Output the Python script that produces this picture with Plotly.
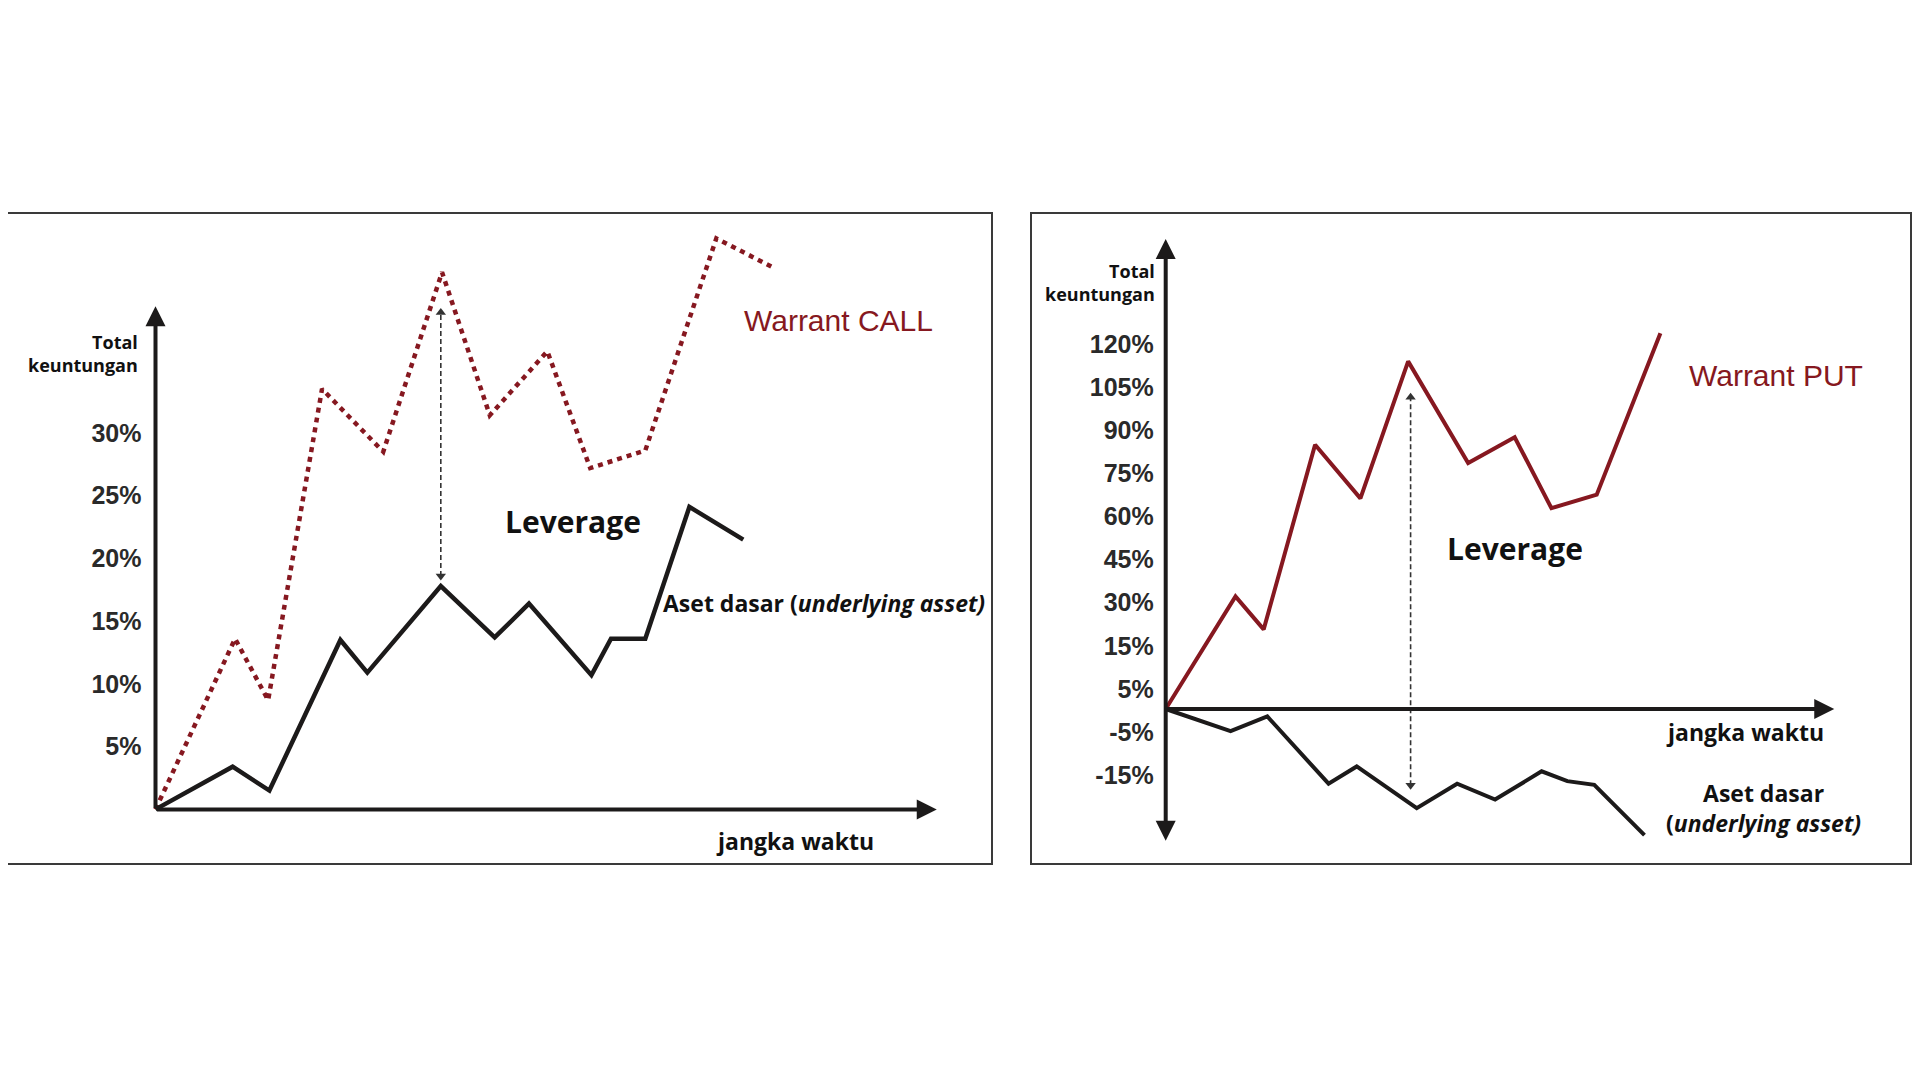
import plotly.graph_objects as go

# the page body keeps an 8px margin, so the figure is 8px smaller than the window
OFF = 8
W, H = 1920 - OFF, 1080 - OFF

# ---- data (left panel: warrant CALL, y in %) ----
call_time = [0, 6.5, 9.2, 13.6, 18.6, 23.4, 27.3, 32.0, 35.5, 40.0, 45.8, 50.6]
call_warrant = [0, 13.6, 8.7, 33.5, 28.5, 42.8, 31.4, 36.5, 27.2, 28.6, 45.5, 43.1]
call_asset_time = [0, 6.3, 9.3, 15.1, 17.3, 23.3, 27.7, 30.5, 35.6, 37.2, 40.0, 43.6, 48.0]
call_asset = [0, 3.4, 1.5, 13.5, 10.9, 17.8, 13.7, 16.4, 10.7, 13.6, 13.6, 24.1, 21.5]
call_ticks = [5, 10, 15, 20, 25, 30]
call_ticktext = ["5%", "10%", "15%", "20%", "25%", "30%"]
call_lev = [18.6, 39.6]          # leverage arrow (bottom, top)
call_lev_t = 23.3

# ---- data (right panel: warrant PUT) ----
put_time = [0, 5.7, 8.0, 12.2, 15.9, 19.8, 24.7, 28.5, 31.5, 35.2, 40.4]
put_warrant = [0, 39.2, 27.7, 92.0, 73.3, 121.0, 85.6, 94.6, 69.9, 74.6, 130.8]
put_asset_time = [0, 5.3, 8.3, 13.3, 15.6, 20.5, 23.8, 26.9, 30.7, 32.8, 35.0, 39.1]
put_asset = [0, -7.7, -2.6, -26.0, -20.0, -34.5, -26.0, -31.5, -21.7, -25.1, -26.4, -43.9]
put_ticks = [127, 112, 97, 82, 67, 52, 37, 22, 7, -8, -23]
put_ticktext = ["120%", "105%", "90%", "75%", "60%", "45%", "30%", "15%", "5%", "-5%", "-15%"]
put_lev = [-26.5, 108.5]
put_lev_t = 20.0

RED = "#861820"
INK = "#1c1a1a"
TICKFONT = dict(family="Liberation Sans, Arial", size=25, color="#2a2a2a", weight="bold")
LABFONT = "Open Sans, Noto Sans, sans-serif"


def px_x(x):
    return (x - OFF) / W


def px_y(y):
    return 1 - (y - OFF) / H


def axis_range(origin_px, unit_px, size, flip=False):
    # data range so that value 0 sits at origin_px (window pixels) with unit_px per unit
    o = origin_px - OFF
    if flip:
        return [(o - size) / unit_px, o / unit_px]
    return [-o / unit_px, (size - o) / unit_px]


fig = go.Figure()

# left panel lines
fig.add_trace(go.Scatter(x=call_time, y=call_warrant, mode="lines",
                         line=dict(color=RED, width=4.5, dash="5px,5px"),
                         xaxis="x", yaxis="y", showlegend=False))
fig.add_trace(go.Scatter(x=call_asset_time, y=call_asset, mode="lines",
                         line=dict(color=INK, width=4.5),
                         xaxis="x", yaxis="y", showlegend=False))
fig.add_trace(go.Scatter(x=[call_lev_t, call_lev_t], y=call_lev, mode="lines+markers",
                         line=dict(color="#333", width=1.6, dash="5px,3px"),
                         marker=dict(symbol=["triangle-down", "triangle-up"], size=9, color="#333"),
                         xaxis="x", yaxis="y", showlegend=False))

# right panel lines
fig.add_trace(go.Scatter(x=put_time, y=put_warrant, mode="lines",
                         line=dict(color=RED, width=4),
                         xaxis="x2", yaxis="y2", showlegend=False))
fig.add_trace(go.Scatter(x=put_asset_time, y=put_asset, mode="lines",
                         line=dict(color=INK, width=4),
                         xaxis="x2", yaxis="y2", showlegend=False))
fig.add_trace(go.Scatter(x=[put_lev_t, put_lev_t], y=put_lev, mode="lines+markers",
                         line=dict(color="#333", width=1.6, dash="5px,3px"),
                         marker=dict(symbol=["triangle-down", "triangle-up"], size=9, color="#333"),
                         xaxis="x2", yaxis="y2", showlegend=False))

# panel frames
for x0, x1 in [(6, 992), (1031, 1911)]:
    fig.add_shape(type="rect", xref="paper", yref="paper",
                  x0=px_x(x0), x1=px_x(x1), y0=px_y(864), y1=px_y(213),
                  line=dict(color="#3a3a3a", width=2))


def axis_arrow(xr, yr, x, y, ax, ay, side="end"):
    fig.add_annotation(xref=xr, yref=yr, axref=xr, ayref=yr, x=x, y=y, ax=ax, ay=ay,
                       text="", showarrow=True, arrowhead=2, arrowsize=1,
                       arrowwidth=4, arrowcolor=INK, arrowside=side)


axis_arrow("x", "y", 0, 40.1, 0, 0)
axis_arrow("x", "y", 63.8, 0, 0, 0)
axis_arrow("x2", "y2", 0, 163.6, 0, -46.4, "end+start")
axis_arrow("x2", "y2", 54.6, 0, 0, 0)


def label(xp, yp, text, size, color="#111", family=LABFONT, align="center", xanchor="center", weight="bold"):
    fig.add_annotation(xref="paper", yref="paper", x=px_x(xp), y=px_y(yp), text=text,
                       showarrow=False, xanchor=xanchor, yanchor="middle", align=align,
                       font=dict(family=family, size=size, color=color, weight=weight))


# left panel texts
label(140, 354, "Total<br>keuntungan", 18, xanchor="right", align="right")
label(573, 521, "Leverage", 30)
label(838, 320, "Warrant CALL", 30, color=RED, family="Liberation Sans, Arial", weight="normal")
label(824, 603, "Aset dasar (<i>underlying asset)</i>", 23)
label(795, 841, "jangka waktu", 23)

# right panel texts
label(1157, 282, "Total<br>keuntungan", 18, xanchor="right", align="right")
label(1515, 548, "Leverage", 30)
label(1776, 375, "Warrant PUT", 30, color=RED, family="Liberation Sans, Arial", weight="normal")
label(1745, 732, "jangka waktu", 23)
label(1763, 808, "Aset dasar<br>(<i>underlying asset)</i>", 23)

hidden_x = dict(domain=[0, 1], showgrid=False, zeroline=False, showline=False,
                showticklabels=False, ticks="")

fig.update_layout(
    width=W, height=H,
    margin=dict(l=0, r=0, t=0, b=0),
    paper_bgcolor="white", plot_bgcolor="white",
    xaxis=dict(hidden_x, range=axis_range(155.5, 12.245, W), anchor="y"),
    yaxis=dict(domain=[0, 1], range=axis_range(809.4, 12.55, H, flip=True),
               anchor="free", position=px_x(155.5),
               showgrid=False, zeroline=False, showline=False, ticks="",
               tickvals=call_ticks, ticktext=call_ticktext, tickfont=TICKFONT,
               ticklabelstandoff=14),
    xaxis2=dict(hidden_x, range=axis_range(1165.7, 12.245, W), anchor="y2", overlaying="x"),
    yaxis2=dict(domain=[0, 1], range=axis_range(709.0, 2.873, H, flip=True),
                anchor="free", position=px_x(1165.7),
                overlaying="y", side="left",
                showgrid=False, zeroline=False, showline=False, ticks="",
                tickvals=put_ticks, ticktext=put_ticktext, tickfont=TICKFONT,
                ticklabelstandoff=12),
)

fig.write_html("out.html")
